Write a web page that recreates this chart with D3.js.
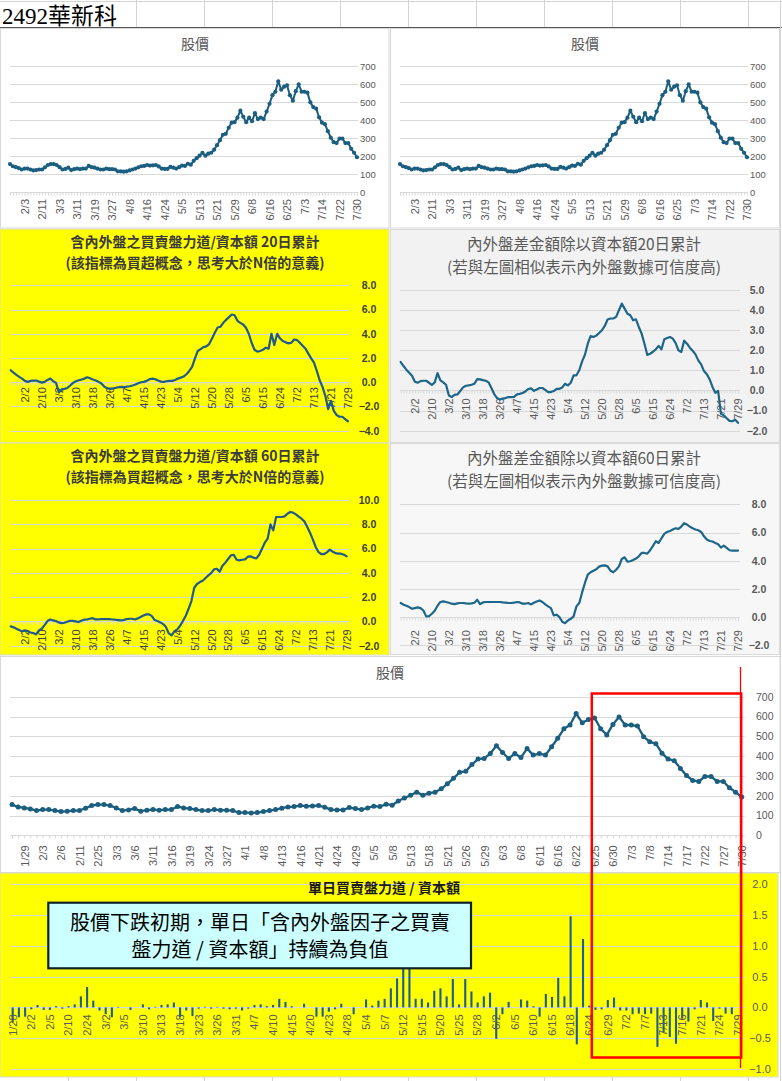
<!DOCTYPE html>
<html>
<head>
<meta charset="utf-8">
<title>2492華新科</title>
<script src="https://d3js.org/d3.v7.min.js"></script>
<style>
  body { margin: 0; padding: 0; background: #fff; }
  svg text { font-family: "Liberation Sans", "Noto Sans CJK TC", sans-serif; }
</style>
</head>
<body>
<svg width="782" height="1081"></svg>
<script>
// ---- data ----
// price chart dates (every 3rd trading day, first one is the 3rd point)
const priceTicks = ["1/29","2/3","2/6","2/11","2/25","3/3","3/6","3/11","3/16","3/19",
  "3/24","3/27","4/1","4/8","4/13","4/16","4/21","4/24","4/29","5/5",
  "5/8","5/13","5/18","5/21","5/26","5/29","6/3","6/8","6/11","6/16",
  "6/22","6/25","6/30","7/3","7/8","7/14","7/17","7/22","7/27","7/30"];

// indicator chart dates (every 3rd trading day, first one is the first bar)
const flowTicks = ["1/28","2/2","2/5","2/10","2/24","3/2","3/5","3/10","3/13","3/18",
  "3/23","3/26","3/31","4/7","4/10","4/15","4/20","4/23","4/28","5/4",
  "5/7","5/12","5/15","5/20","5/25","5/28","6/2","6/5","6/10","6/15",
  "6/18","6/24","6/29","7/2","7/7","7/13","7/16","7/21","7/24","7/29"];

// 股價
const price = [155,143,138,133,125,130,130,125,120,122,
  125,125,137,150,155,155,150,138,125,128,
  135,122,127,130,127,130,130,145,138,135,
  130,125,125,130,127,127,125,115,115,113,
  115,120,125,130,137,143,145,150,147,148,
  150,142,130,128,128,140,135,130,138,147,
  145,157,152,173,188,202,218,202,213,218,
  235,260,288,318,323,357,385,388,413,452,
  418,388,413,393,438,405,413,405,447,490,
  538,557,615,568,585,593,538,507,560,598,
  557,557,552,498,472,463,415,385,377,338,
  302,277,272,297,297,272,272,240,218,193];

// 含內外盤之買賣盤力道/資本額 20日累計
const flow20 = [0.99,0.79,0.60,0.44,0.30,0.11,0.03,0.11,0.14,0.14,
  0.05,-0.03,0.03,0.19,0.30,0.08,-0.05,-0.85,-0.58,-0.55,
  -0.47,-0.27,-0.05,0.08,0.16,0.22,0.30,0.41,0.33,0.22,
  0.14,0.03,-0.11,-0.36,-0.49,-0.55,-0.52,-0.47,-0.41,-0.38,
  -0.41,-0.36,-0.33,-0.27,-0.19,-0.08,0.00,0.03,0.11,0.25,
  0.30,0.25,0.14,0.05,0.03,0.08,0.11,0.11,0.19,0.30,
  0.38,0.47,0.66,0.93,1.26,1.97,2.58,2.74,2.90,2.96,
  3.15,3.59,4.08,4.52,4.58,4.90,5.15,5.37,5.59,5.53,
  5.07,4.90,4.77,4.49,4.00,3.26,2.68,2.52,2.58,2.68,
  2.85,2.77,4.00,3.07,4.00,3.62,3.40,3.29,3.21,3.26,
  3.53,3.48,3.26,3.01,2.77,2.36,1.97,1.62,0.93,0.16,
  -0.38,-1.12,-2.22,-1.53,-2.36,-2.71,-2.85,-2.85,-3.04,-3.23];

// 內外盤差金額除以資本額20日累計
const diff20 = [1.41,1.21,1.03,0.88,0.73,0.43,0.38,0.46,0.48,0.48,
  0.38,0.27,0.40,0.86,0.50,0.40,0.28,-0.25,-0.33,-0.22,
  -0.20,-0.03,0.15,0.23,0.25,0.28,0.33,0.56,0.55,0.51,
  0.48,0.40,0.12,-0.18,-0.38,-0.45,-0.41,-0.38,-0.33,-0.33,
  -0.32,-0.20,-0.17,-0.13,-0.05,0.07,0.10,-0.02,0.05,0.12,
  0.12,0.03,-0.08,-0.08,-0.03,0.08,0.08,0.15,0.33,0.25,
  0.38,0.75,0.75,1.00,1.44,1.77,2.32,2.70,2.65,2.72,
  2.85,2.99,3.20,3.52,3.57,3.57,3.65,3.98,4.31,4.06,
  3.81,3.73,3.48,3.53,3.15,2.82,2.32,1.76,1.82,1.92,
  2.04,2.21,2.04,2.54,2.60,2.65,2.57,2.35,1.99,1.91,
  2.47,2.32,2.12,1.97,1.79,1.49,1.29,0.96,0.80,0.55,
  0.17,-0.12,-0.03,-1.16,-1.24,-1.38,-1.51,-1.53,-1.46,-1.61];

// 含內外盤之買賣盤力道/資本額 60日累計
const flow60 = [-0.41,-0.49,-0.60,-0.71,-0.82,-0.74,-0.80,-0.91,-0.96,-1.07,
  -0.74,-0.60,-0.30,0.03,0.16,0.08,0.03,-0.08,-0.14,-0.11,
  -0.03,0.05,0.05,0.00,-0.05,0.05,0.14,0.16,0.22,0.27,
  0.16,0.16,0.19,0.19,0.19,0.19,0.16,0.14,0.11,0.08,
  0.11,0.19,0.22,0.22,0.16,0.25,0.36,0.49,0.58,0.58,
  0.44,0.11,0.03,-0.08,-0.22,-0.47,-0.99,-1.15,-0.80,-0.66,
  -0.36,0.03,0.47,1.04,1.68,2.77,3.08,3.24,3.35,3.57,
  3.79,3.98,4.29,4.34,4.09,4.59,4.84,5.14,5.44,5.49,
  5.08,5.03,5.08,5.11,5.33,5.36,5.25,5.19,5.49,5.99,
  6.48,6.81,7.99,7.50,8.60,8.60,8.60,8.65,8.87,9.01,
  8.96,8.82,8.63,8.46,8.24,7.80,7.31,6.76,6.13,5.71,
  5.55,5.55,5.69,5.91,5.74,5.63,5.58,5.58,5.49,5.36];

// 內外盤差金額除以資本額60日累計
const diff60 = [1.00,0.88,0.81,0.71,0.59,0.64,0.69,0.64,0.47,0.05,
  0.07,0.24,0.45,0.81,1.07,1.11,1.07,1.02,0.95,0.92,
  0.97,1.00,1.00,0.97,0.95,0.97,1.02,1.23,0.92,1.04,
  1.07,1.07,1.07,1.07,1.07,1.07,1.04,1.02,1.00,1.00,
  1.02,1.07,1.04,0.95,0.95,1.00,0.90,1.02,1.11,1.18,
  1.07,0.90,0.76,0.64,0.12,0.17,0.00,-0.33,-0.43,-0.24,
  -0.12,0.05,0.76,1.00,1.75,2.42,3.01,3.18,3.29,3.39,
  3.58,3.65,3.67,3.60,3.29,3.18,3.36,3.60,4.12,4.24,
  3.93,3.96,4.05,4.15,4.31,4.55,4.55,4.50,4.74,5.05,
  5.38,5.26,5.59,5.90,6.04,6.11,6.21,6.30,6.26,6.42,
  6.66,6.56,6.42,6.30,6.21,6.16,6.04,5.73,5.50,5.40,
  5.36,5.26,5.17,4.93,5.07,4.91,4.74,4.72,4.72,4.72];

// 單日買賣盤力道 / 資本額
const dailyFlow = [-0.24,-0.16,-0.15,-0.03,0.04,-0.04,-0.04,0.02,-0.02,0.02,
  0.05,0.18,0.33,0.11,-0.05,-0.11,-0.16,0.01,0.00,-0.04,
  0.00,0.05,-0.03,0.01,0.04,0.05,0.08,-0.16,-0.05,-0.14,
  -0.02,0.01,-0.02,0.01,-0.02,-0.03,-0.02,-0.05,-0.02,0.04,
  0.05,0.02,0.04,0.14,0.09,0.02,0.00,0.06,0.00,-0.15,
  -0.15,-0.07,-0.03,0.06,0.00,-0.11,0.00,0.13,0.03,0.11,
  0.14,0.31,0.47,0.90,0.80,0.14,0.14,0.08,0.27,0.31,
  0.18,0.46,0.05,0.46,0.26,0.08,0.18,0.24,-0.51,-0.11,
  0.09,0.00,0.13,0.11,0.02,-0.15,0.22,0.17,0.48,0.18,
  1.48,-0.60,1.11,0.03,-0.04,-0.03,0.12,0.16,-0.05,-0.05,
  -0.11,-0.10,-0.11,-0.10,-0.64,-0.40,-0.48,-0.59,-0.18,-0.23,
  -0.03,0.12,0.08,-0.22,-0.02,-0.10,-0.11,0.00];

const noteLines = ["股價下跌初期，單日「含內外盤因子之買賣", "盤力道 / 資本額」持續為負值"];

// ---- drawing ----
const svg = d3.select("svg");
const W = 782, H = 1081;
const GRID = "#d9d9d9";

svg.append("rect").attr("width", W).attr("height", H).attr("fill", "#fff");

// spreadsheet cells peeking out around the charts
const cellX = d3.range(136, W, 68);
svg.append("g").selectAll("line").data(cellX).join("line")
  .attr("x1", d => d + 0.5).attr("x2", d => d + 0.5).attr("y1", 0).attr("y2", 28)
  .attr("stroke", "#d4d4d4");
svg.append("g").selectAll("line").data(d3.range(68, W, 68)).join("line")
  .attr("x1", d => d + 0.5).attr("x2", d => d + 0.5).attr("y1", 1077).attr("y2", H)
  .attr("stroke", "#d4d4d4");
svg.append("line").attr("x1", 0).attr("x2", W).attr("y1", 1.5).attr("y2", 1.5).attr("stroke", "#d4d4d4");
svg.append("line").attr("x1", 0).attr("x2", W).attr("y1", 27.5).attr("y2", 27.5)
  .attr("stroke", "#555").attr("stroke-width", 1.2);
svg.append("line").attr("x1", 780.5).attr("x2", 780.5).attr("y1", 0).attr("y2", H).attr("stroke", "#d4d4d4");

svg.append("text").attr("x", 2).attr("y", 24)
  .style("font-family", "'Liberation Serif', 'Noto Sans CJK TC', serif")
  .style("font-size", "23px").attr("fill", "#000").text("2492華新科");

// chart frames
const panels = [
  {x: 0.5, y: 28.5, w: 388.5, h: 199.5, fill: "#fff"},
  {x: 390.5, y: 28.5, w: 389, h: 199.5, fill: "#fff"},
  {x: 0, y: 229, w: 389, h: 214, fill: "#ffff00"},
  {x: 390.5, y: 229.5, w: 389, h: 213, fill: "#f2f2f2"},
  {x: 0, y: 443, w: 389, h: 212, fill: "#ffff00"},
  {x: 390.5, y: 443.5, w: 389, h: 211, fill: "#f7f7f7"},
  {x: 0.5, y: 656.5, w: 779.5, h: 216, fill: "#fff"},
  {x: 0, y: 873, w: 778, h: 204, fill: "#ffff00"}
];
svg.append("g").selectAll("rect").data(panels).join("rect")
  .attr("x", d => d.x).attr("y", d => d.y).attr("width", d => d.w).attr("height", d => d.h)
  .attr("fill", d => d.fill).attr("stroke", GRID).attr("stroke-width", 1);

function title(lines, cx, ys, size, color, bold) {
  lines.forEach((t, i) => {
    svg.append("text").attr("x", cx).attr("y", ys[i]).attr("text-anchor", "middle")
      .style("font-family", "'Noto Sans CJK TC', 'Liberation Sans', sans-serif")
      .style("font-size", size + "px").style("font-weight", bold ? "bold" : "normal")
      .attr("fill", color).text(t);
  });
}

function yLabels(g, y, ticks, o) {
  const ya = g.append("g").attr("transform", `translate(${o.yLabelX},0)`)
    .call(d3.axisRight(y).tickValues(ticks).tickFormat(d3.format(o.yFormat)).tickSize(0).tickPadding(0));
  ya.select(".domain").remove();
  ya.selectAll("text").attr("x", 0).attr("text-anchor", o.yAnchor).attr("fill", o.yColor)
    .style("font-size", o.yFont + "px").style("font-weight", o.yBold ? "bold" : "normal");
}

function xLabels(g, scale, y0, idx, labels, o) {
  const map = new Map(idx.map((d, i) => [d, labels[i]]));
  const xl = g.append("g").attr("transform", `translate(0,${y0})`)
    .call(d3.axisBottom(scale).tickValues(idx).tickFormat(d => map.get(d)).tickSize(0));
  xl.select(".domain").remove();
  xl.selectAll("text").attr("transform", "rotate(-90)").attr("text-anchor", "end")
    .attr("x", -o.labelGap).attr("y", 0).attr("dy", "0.35em")
    .attr("fill", o.xColor).style("font-size", "11px");
}

function lineChart(o) {
  const g = svg.append("g");
  const n = o.values.length;
  const x = d3.scaleLinear().domain([0, n - 1]).range(o.xRange);
  const y = d3.scaleLinear().domain(o.yDomain).range(o.yRange);
  const ticks = d3.range(o.yDomain[0], o.yDomain[1] + o.yStep / 2, o.yStep);

  g.append("g").selectAll("line").data(ticks).join("line")
    .attr("x1", o.gridX[0]).attr("x2", o.gridX[1])
    .attr("y1", d => Math.round(y(d)) + 0.5).attr("y2", d => Math.round(y(d)) + 0.5)
    .attr("stroke", GRID);

  yLabels(g, y, ticks, o);

  const y0 = y(Math.max(0, o.yDomain[0]));
  const xt = g.append("g").attr("transform", `translate(0,${Math.round(y0) + 0.5})`)
    .call(d3.axisBottom(x).tickValues(d3.range(n)).tickFormat("").tickSize(3));
  xt.select(".domain").remove();
  xt.selectAll("line").attr("stroke", GRID);

  xLabels(g, x, y0, o.labelIdx, o.labels, o);

  g.append("path").datum(o.values)
    .attr("d", d3.line().x((d, i) => x(i)).y(d => y(d)))
    .attr("fill", "none").attr("stroke", o.color).attr("stroke-width", o.lineWidth)
    .attr("stroke-linejoin", "round").attr("stroke-linecap", "round");

  if (o.marker) {
    g.append("g").selectAll("circle").data(o.values).join("circle")
      .attr("cx", (d, i) => x(i)).attr("cy", d => y(d)).attr("r", o.marker)
      .attr("fill", o.color);
  }
}

// which tick labels each chart shows
const everyOther = arr => arr.filter((d, i) => i % 2 === 1);
const oddIdx = d3.range(40).filter(k => k % 2 === 1).map(k => 3 * k + 2);
const allIdx = d3.range(40).map(k => 3 * k + 2);

const priceStyle = {yDomain: [0, 700], yStep: 100, yFormat: "d", yAnchor: "start",
  yColor: "#595959", yFont: 9.5, yBold: false, xColor: "#595959", color: "#1b5e80"};

// top row: two identical price charts
[0, 390].forEach(dx => {
  title(["股價"], 195 + dx, [49], 14, "#595959", false);
  lineChart(Object.assign({}, priceStyle, {
    values: price, xRange: [10 + dx, 357 + dx], yRange: [192, 66], gridX: [10 + dx, 358 + dx],
    yLabelX: 360 + dx, labelIdx: oddIdx, labels: everyOther(priceTicks), labelGap: 7,
    lineWidth: 2, marker: 2.1
  }));
});

// 20-day panels
title(["含內外盤之買賣盤力道/資本額 20日累計", "(該指標為買超概念，思考大於N倍的意義)"],
  195, [247, 268], 14, "#3a3a3a", true);
lineChart({
  values: flow20, xRange: [10.7, 348], yDomain: [-4, 8], yStep: 2, yRange: [430.7, 285.3],
  gridX: [10, 350], yLabelX: 369, yFormat: ".1f", yAnchor: "middle", yColor: "#404040",
  yFont: 10.5, yBold: true, labelIdx: oddIdx, labels: everyOther(flowTicks), labelGap: 5,
  xColor: "#404040", color: "#1f5a8a", lineWidth: 2.2
});

title(["內外盤差金額除以資本額20日累計", "(若與左圖相似表示內外盤數據可信度高)"],
  584, [250, 273], 15.5, "#595959", false);
lineChart({
  values: diff20, xRange: [400.7, 738], yDomain: [-2, 5], yStep: 1, yRange: [430.7, 289.7],
  gridX: [400, 740], yLabelX: 757, yFormat: ".1f", yAnchor: "middle", yColor: "#595959",
  yFont: 10.5, yBold: true, labelIdx: oddIdx, labels: everyOther(flowTicks), labelGap: 8,
  xColor: "#595959", color: "#1d6689", lineWidth: 2.2
});

// 60-day panels
title(["含內外盤之買賣盤力道/資本額 60日累計", "(該指標為買超概念，思考大於N倍的意義)"],
  195, [461, 482], 14, "#3a3a3a", true);
lineChart({
  values: flow60, xRange: [10.7, 346.7], yDomain: [-2, 10], yStep: 2, yRange: [645.7, 500],
  gridX: [10, 350], yLabelX: 369, yFormat: ".1f", yAnchor: "middle", yColor: "#404040",
  yFont: 10.5, yBold: true, labelIdx: oddIdx, labels: everyOther(flowTicks), labelGap: 8,
  xColor: "#404040", color: "#1f5a8a", lineWidth: 2.2
});

title(["內外盤差金額除以資本額60日累計", "(若與左圖相似表示內外盤數據可信度高)"],
  584, [464, 487], 15.5, "#595959", false);
lineChart({
  values: diff60, xRange: [400.7, 738], yDomain: [-2, 8], yStep: 2, yRange: [645.3, 504.3],
  gridX: [400, 740], yLabelX: 759, yFormat: ".1f", yAnchor: "middle", yColor: "#595959",
  yFont: 10.5, yBold: true, labelIdx: oddIdx, labels: everyOther(flowTicks), labelGap: 13,
  xColor: "#595959", color: "#1d6689", lineWidth: 2.2
});

// wide price chart
title(["股價"], 390, [678], 14, "#595959", false);
lineChart(Object.assign({}, priceStyle, {
  values: price, xRange: [12, 741.7], yRange: [835.3, 696.7], gridX: [10, 745],
  yLabelX: 756, yFont: 10.5, labelIdx: allIdx, labels: priceTicks, labelGap: 10,
  lineWidth: 2.3, marker: 2.5
}));

// daily bar chart
(function barChart() {
  const g = svg.append("g");
  const n = dailyFlow.length;
  const x = d3.scaleBand().domain(d3.range(n)).range([9.6, 741.1]).paddingInner(0.66).paddingOuter(0.33);
  const y = d3.scaleLinear().domain([-1, 2]).range([1069, 884.3]);
  const ticks = d3.range(-1, 2.25, 0.5);

  g.append("g").selectAll("line").data(ticks).join("line")
    .attr("x1", 10).attr("x2", 745)
    .attr("y1", d => Math.round(y(d)) + 0.5).attr("y2", d => Math.round(y(d)) + 0.5)
    .attr("stroke", GRID);

  yLabels(g, y, ticks, {yLabelX: 760, yFormat: ".1f", yAnchor: "middle", yColor: "#595959", yFont: 11, yBold: false});

  const y0 = y(0);
  const xt = g.append("g").attr("transform", `translate(${-x.step() / 2},${Math.round(y0) + 0.5})`)
    .call(d3.axisBottom(x).tickValues(d3.range(n)).tickFormat("").tickSize(3));
  xt.select(".domain").remove();
  xt.selectAll("line").attr("stroke", GRID);

  g.append("g").selectAll("rect").data(dailyFlow).join("rect")
    .attr("x", (d, i) => x(i)).attr("width", x.bandwidth())
    .attr("y", d => Math.min(y(d), y0)).attr("height", d => Math.abs(y(d) - y0))
    .attr("fill", "#1f5f8f");

  xLabels(g, x, y0, d3.range(40).map(k => 3 * k), flowTicks, {labelGap: 7, xColor: "#595959"});
})();
title(["單日買賣盤力道 / 資本額"], 384, [893], 14, "#1a1a1a", true);

// annotation box
svg.append("rect").attr("x", 48.3).attr("y", 902.7).attr("width", 422.7).attr("height", 65.6)
  .attr("fill", "#ccffff").attr("stroke", "#10222e").attr("stroke-width", 2.2);
noteLines.forEach((t, i) => {
  svg.append("text").attr("x", 260).attr("y", [930, 957][i]).attr("text-anchor", "middle")
    .style("font-family", "'Noto Sans CJK TC', sans-serif").style("font-size", "20px")
    .attr("fill", "#000").text(t);
});

// red highlight
svg.append("line").attr("x1", 740.5).attr("x2", 740.5).attr("y1", 667).attr("y2", 1068)
  .attr("stroke", "#ff0000").attr("stroke-width", 1.3);
svg.append("rect").attr("x", 591.8).attr("y", 693.5).attr("width", 149.4).attr("height", 364)
  .attr("fill", "none").attr("stroke", "#ff0000").attr("stroke-width", 2.5);
</script>
</body>
</html>
